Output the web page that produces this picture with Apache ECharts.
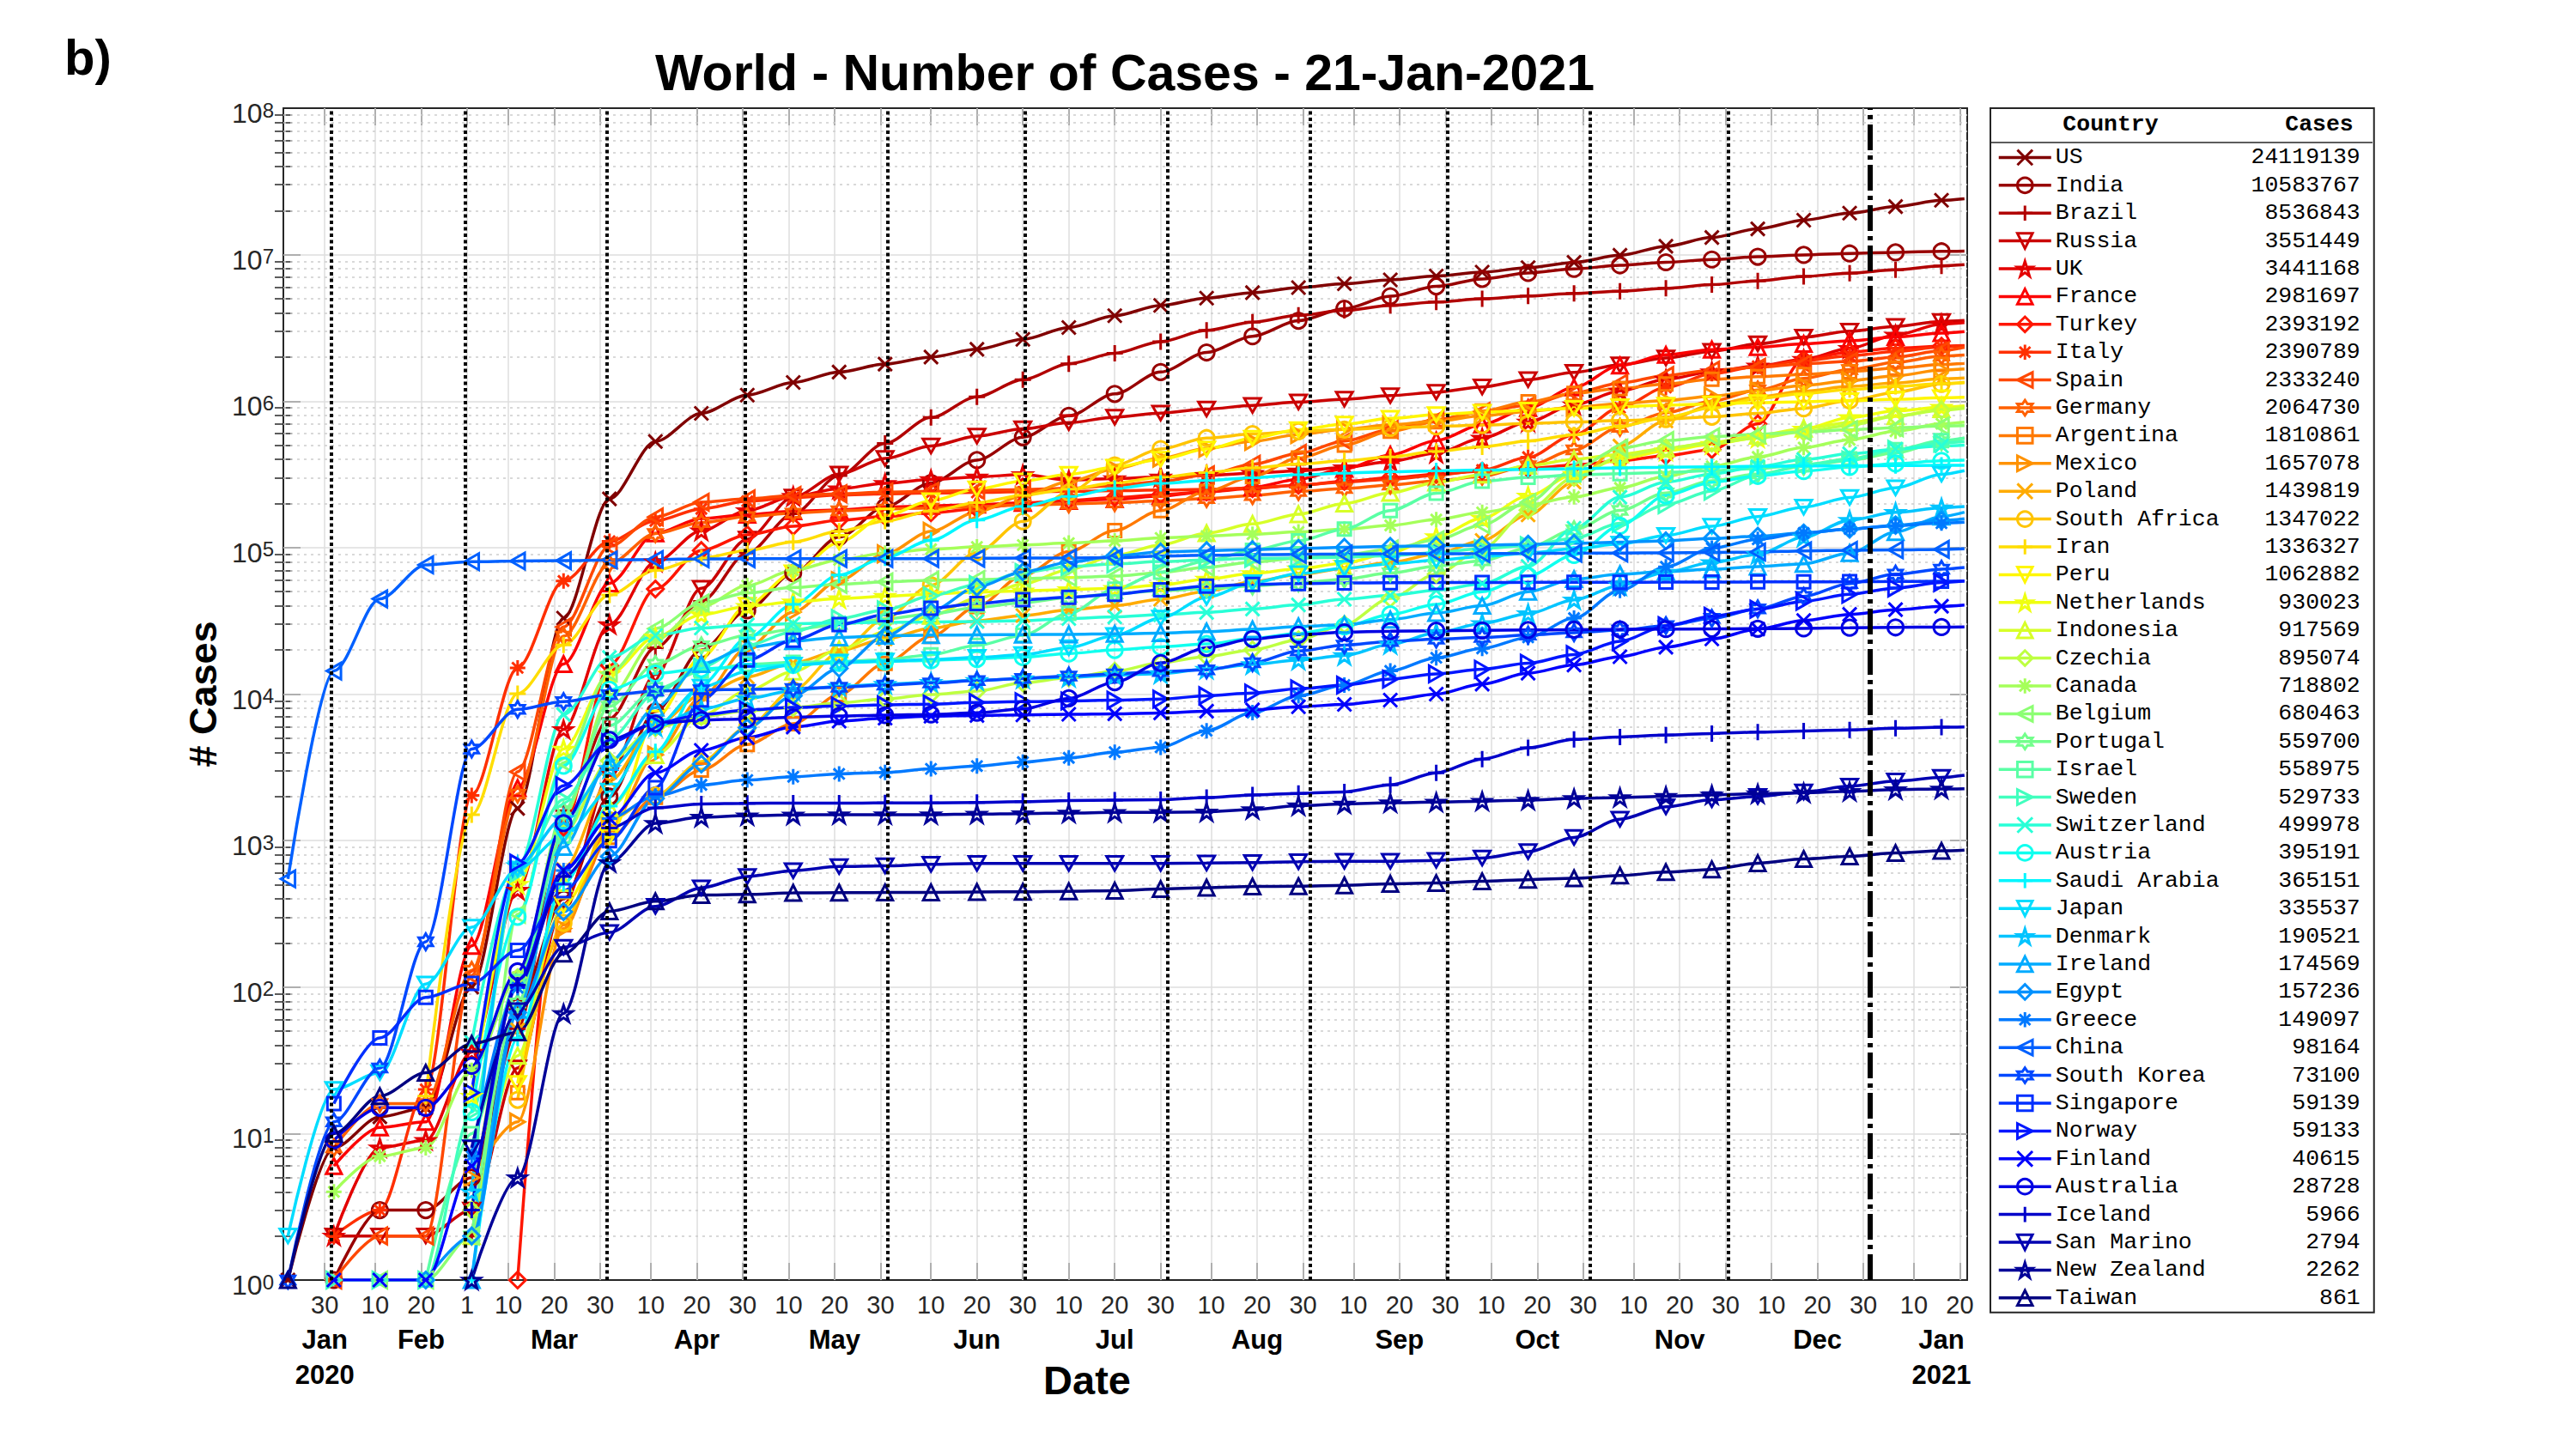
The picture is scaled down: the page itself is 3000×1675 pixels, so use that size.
<!DOCTYPE html>
<html lang="en">
<head>
  <meta charset="UTF-8">
  <title>World - Number of Cases - 21-Jan-2021</title>
  <style>
  html, body { margin: 0; padding: 0; background: #fff; }
  #main { width: 3000px; height: 1675px; }
  </style>
  <script src="https://cdn.jsdelivr.net/npm/echarts@6.0.0/dist/echarts.min.js"></script>
</head>
<body>
  <div id="main"></div>
  <script>
  // sample dates (every 10 days) and cumulative cases per country
  var dates = ['2020-01-22', '2020-02-01', '2020-02-11', '2020-02-21',
    '2020-03-02', '2020-03-12', '2020-03-22', '2020-04-01', '2020-04-11', '2020-04-21',
    '2020-05-01', '2020-05-11', '2020-05-21', '2020-05-31', '2020-06-10', '2020-06-20', '2020-06-30',
    '2020-07-10', '2020-07-20', '2020-07-30', '2020-08-09', '2020-08-19', '2020-08-29',
    '2020-09-08', '2020-09-18', '2020-09-28', '2020-10-08', '2020-10-18', '2020-10-28',
    '2020-11-07', '2020-11-17', '2020-11-27', '2020-12-07', '2020-12-17', '2020-12-27',
    '2021-01-06', '2021-01-16', '2021-01-21'];

  var countries = ['US', 'India', 'Brazil', 'Russia', 'UK', 'France', 'Turkey', 'Italy', 'Spain',
    'Germany', 'Argentina', 'Mexico', 'Poland', 'South Africa', 'Iran', 'Peru', 'Netherlands',
    'Indonesia', 'Czechia', 'Canada', 'Belgium', 'Portugal', 'Israel', 'Sweden', 'Switzerland',
    'Austria', 'Saudi Arabia', 'Japan', 'Denmark', 'Ireland', 'Egypt', 'Greece', 'China',
    'South Korea', 'Singapore', 'Norway', 'Finland', 'Australia', 'Iceland', 'San Marino',
    'New Zealand', 'Taiwan'];

  var latest = [24119139, 10583767, 8536843, 3551449, 3441168, 2981697, 2393192, 2390789, 2333240,
    2064730, 1810861, 1657078, 1439819, 1347022, 1336327, 1062882, 930023, 917569, 895074, 718802,
    680463, 559700, 558975, 529733, 499978, 395191, 365151, 335537, 190521, 174569, 157236, 149097,
    98164, 73100, 59139, 59133, 40615, 28728, 5966, 2794, 2262, 861];

  var us = [1, 8, 13, 15, 100, 1660, 33000, 215000, 530000, 825000, 1.10e6, 1.34e6, 1.58e6, 1.79e6,
    2.00e6, 2.26e6, 2.64e6, 3.18e6, 3.83e6, 4.50e6, 5.05e6, 5.50e6, 5.96e6, 6.33e6, 6.73e6, 7.15e6,
    7.60e6, 8.15e6, 8.85e6, 9.90e6, 11.4e6, 13.1e6, 15.0e6, 17.2e6, 19.2e6, 21.3e6, 23.5e6, 24119139];
  var india = [null, 1, 3, 3, 5, 73, 400, 1998, 7600, 20000, 37300, 67000, 118000, 190000,
    276000, 396000, 567000, 794000, 1.12e6, 1.58e6, 2.15e6, 2.77e6, 3.54e6, 4.28e6, 5.20e6, 6.07e6,
    6.83e6, 7.50e6, 7.99e6, 8.46e6, 8.87e6, 9.27e6, 9.68e6, 9.96e6, 10.19e6, 10.37e6, 10.54e6, 10583767];
  var brazil = [null, null, null, null, 2, 52, 1600, 6800, 20700, 43000, 92000, 170000, 310000, 514000,
    773000, 1.07e6, 1.40e6, 1.80e6, 2.12e6, 2.55e6, 3.04e6, 3.46e6, 3.85e6, 4.16e6, 4.50e6, 4.75e6,
    5.00e6, 5.22e6, 5.44e6, 5.63e6, 5.90e6, 6.24e6, 6.62e6, 7.10e6, 7.47e6, 7.87e6, 8.39e6, 8536843];
  var russia = [null, 2, 2, 2, 3, 28, 367, 2777, 13584, 52763, 114431, 221344, 317554, 405843,
    493657, 576952, 646929, 712863, 777486, 828990, 882347, 935066, 985346, 1.03e6, 1.09e6, 1.15e6,
    1.25e6, 1.40e6, 1.57e6, 1.77e6, 1.97e6, 2.19e6, 2.46e6, 2.73e6, 3.00e6, 3.24e6, 3.50e6, 3551449];
  var uk = [null, 2, 8, 9, 36, 459, 5741, 29865, 79885, 130172, 178685, 224332, 252246, 274762,
    291409, 304331, 314992, 289000, 296000, 304000, 311000, 322000, 334000, 352000, 388000, 442000,
    559000, 722000, 943000, 1.17e6, 1.41e6, 1.59e6, 1.74e6, 1.93e6, 2.29e6, 2.83e6, 3.36e6, 3441168];
  var france = [null, 6, 11, 12, 191, 2284, 16044, 57000, 125000, 158000, 168000, 177000, 181000, 189000,
    193000, 197000, 202000, 208000, 214000, 225000, 241000, 258000, 293000, 345000, 429000, 538000,
    692000, 897000, 1.24e6, 1.75e6, 2.07e6, 2.25e6, 2.34e6, 2.46e6, 2.58e6, 2.74e6, 2.91e6, 2981697];
  var turkey = [null, null, null, null, null, 1, 1236, 15679, 52167, 95591, 122392, 139771, 153548, 163103,
    173036, 184031, 199906, 209962, 219641, 229891, 240804, 253108, 267064, 283270, 299810, 316959,
    332382, 347493, 366000, 391000, 425000, 467000, 700000, 1.93e6, 2.16e6, 2.30e6, 2.37e6, 2393192];
  var italy = [null, 2, 3, 20, 2036, 15113, 59138, 110574, 152271, 183957, 207428, 219814, 228006, 232997,
    235763, 238159, 240578, 242639, 244624, 247158, 250103, 255278, 266853, 280153, 293025, 311364,
    338398, 414241, 589766, 902490, 1.24e6, 1.54e6, 1.73e6, 1.89e6, 2.04e6, 2.18e6, 2.35e6, 2390789];
  var spain = [null, 1, 2, 2, 120, 2950, 28768, 102136, 161852, 204178, 215216, 227436, 233037, 239479,
    242280, 245938, 249271, 253908, 264836, 282641, 314362, 370867, 439286, 534513, 640040, 748266,
    848324, 936560, 1.136e6, 1.328e6, 1.496e6, 1.628e6, 1.702e6, 1.797e6, 1.869e6, 2.00e6, 2.21e6, 2333240];
  var germany = [null, 8, 16, 16, 130, 2078, 24873, 77872, 124908, 148291, 163009, 171879, 178473, 183271,
    186506, 190359, 195228, 198699, 202735, 208546, 216196, 226914, 241771, 253474, 267773, 285026,
    307127, 361974, 464239, 663000, 833000, 1.00e6, 1.19e6, 1.43e6, 1.64e6, 1.84e6, 2.03e6, 2064730];
  var argentina = [null, null, null, null, null, 19, 266, 1054, 1975, 3031, 4532, 6278, 9931, 16214,
    24761, 39570, 64530, 94060, 130774, 178996, 241811, 305966, 408426, 500034, 622934, 723132,
    856369, 989680, 1.13e6, 1.22e6, 1.31e6, 1.41e6, 1.47e6, 1.52e6, 1.59e6, 1.68e6, 1.78e6, 1810861];
  var mexico = [null, null, null, null, 5, 12, 251, 1215, 3844, 9501, 20739, 36327, 59567, 90664,
    129184, 175202, 226089, 282283, 344224, 408449, 475902, 531239, 591712, 642860, 688954, 730317,
    794608, 851227, 906863, 961938, 1.01e6, 1.08e6, 1.18e6, 1.28e6, 1.38e6, 1.49e6, 1.63e6, 1657078];
  var poland = [null, null, null, null, null, 51, 634, 2554, 6088, 9856, 13105, 16326, 19739, 23786,
    28201, 31620, 34393, 37521, 40104, 44416, 50324, 58611, 65480, 71947, 79240, 90431,
    111984, 167230, 280229, 493000, 733000, 941000, 1.07e6, 1.17e6, 1.26e6, 1.33e6, 1.42e6, 1439819];
  var southAfrica = [null, null, null, null, null, 17, 274, 1380, 2028, 3465, 5951, 10652, 19137, 32683,
    55421, 92681, 151209, 238339, 364328, 471123, 559859, 596060, 622551, 640441, 657627, 671669,
    686891, 703793, 719714, 737278, 755000, 783000, 825000, 893000, 1.01e6, 1.15e6, 1.31e6, 1347022];
  var iran = [null, null, null, 18, 1501, 10075, 21638, 47593, 70029, 84802, 95646, 109286, 129341, 151466,
    177938, 202584, 227662, 250458, 276202, 301530, 324692, 350279, 371816, 391112, 416198, 453637,
    488236, 534631, 588648, 673250, 775000, 900000, 1.04e6, 1.13e6, 1.20e6, 1.26e6, 1.32e6, 1336327];
  var peru = [null, null, null, null, null, 22, 363, 1065, 6848, 17837, 40459, 67307, 108769, 164476,
    208823, 251338, 285213, 316448, 353590, 400683, 471012, 558420, 639435, 696190, 762865, 808714,
    839949, 868675, 892497, 916000, 939000, 956000, 976000, 990000, 1.007e6, 1.03e6, 1.055e6, 1062882];
  var netherlands = [null, null, null, null, 18, 503, 4216, 13696, 24571, 34842, 39791, 42627, 44888, 46545,
    48251, 49593, 50621, 51694, 52732, 55470, 61001, 66658, 71677, 78413, 91934, 119000,
    159000, 225000, 317000, 403000, 459000, 508000, 563000, 645000, 774000, 858000, 910000, 930023];
  var indonesia = [null, null, null, null, 2, 34, 514, 1677, 3842, 7135, 10551, 14265, 20162, 26473,
    34316, 45029, 56385, 70736, 88214, 104432, 125396, 144945, 169195, 200035, 236519, 278722,
    315714, 361867, 400483, 433836, 474455, 522581, 581550, 650000, 713365, 788402, 882000, 917569];
  var czechia = [null, null, null, null, 3, 116, 1120, 3508, 5902, 7033, 7682, 8095, 8721, 9268,
    9940, 10498, 11954, 12919, 14324, 16372, 18062, 20052, 23441, 29877, 45000, 66000,
    98000, 180000, 301000, 415000, 478000, 517000, 560000, 619000, 683000, 789000, 868000, 895074];
  var canada = [null, 4, 7, 8, 27, 117, 1468, 9560, 23318, 39402, 55061, 69981, 82480, 91681,
    97530, 101019, 104204, 107347, 111124, 116458, 119944, 123490, 127940, 133748, 141852, 155301,
    174000, 196000, 222000, 256000, 307000, 359000, 416000, 482000, 545000, 623000, 701000, 718802];
  var belgium = [null, null, 1, 1, 2, 314, 3401, 13964, 28018, 41889, 49032, 53449, 56235, 58381,
    59819, 60550, 61509, 62469, 63893, 67518, 73401, 79729, 84585, 89522, 97560, 113000,
    143000, 204000, 344000, 477000, 538000, 571000, 594000, 615000, 638000, 659000, 676000, 680463];
  var portugal = [null, null, null, null, 2, 78, 1600, 8251, 15987, 21379, 25190, 27581, 29912, 32500,
    35306, 39133, 42141, 45679, 48390, 50868, 52351, 54701, 57448, 60895, 67176, 74717,
    81256, 99911, 132616, 179324, 236015, 285838, 318640, 358296, 394573, 443000, 528000, 559700];
  var israel = [null, null, null, 1, 10, 109, 1071, 6092, 10743, 14326, 15982, 16477, 16717, 17169,
    18569, 21512, 25244, 35533, 52003, 68063, 81066, 95878, 111370, 134000, 179000, 235000,
    284000, 302000, 313000, 320000, 326000, 335000, 347000, 368000, 404000, 466000, 537000, 558975];
  var sweden = [null, 1, 1, 1, 14, 599, 1906, 4947, 10151, 15322, 21520, 26670, 32809, 37542,
    46814, 56043, 67667, 74333, 77281, 80422, 82323, 84532, 84985, 86194, 88237, 92466,
    98451, 103200, 115785, 146461, 196446, 243129, 312000, 367000, 396000, 469000, 518000, 529733];
  var switzerland = [null, null, null, null, 42, 652, 7245, 17768, 25107, 28268, 29705, 30251, 30618, 30862,
    31063, 31292, 31714, 32817, 33634, 34802, 36108, 38124, 40645, 44401, 47179, 51101,
    56632, 74422, 135658, 221000, 280000, 318000, 358000, 399000, 437000, 470000, 494000, 499978];
  var austria = [null, null, null, null, 14, 302, 3244, 10711, 13806, 14873, 15402, 15833, 16353, 16685,
    17000, 17380, 17873, 18948, 20008, 21000, 22000, 24000, 26000, 29000, 35000, 41000,
    50000, 64000, 89000, 141000, 227000, 279000, 309000, 333000, 355000, 375000, 391000, 395191];
  var saudiArabia = [null, null, null, null, 1, 45, 511, 1720, 4033, 11631, 24097, 41014, 65077, 85261,
    112288, 154233, 190823, 223327, 253349, 274219, 287262, 299914, 313911, 322237, 329271, 334187,
    338132, 342202, 346047, 350000, 354000, 356000, 359000, 361000, 362000, 363000, 365000, 365151];
  var japan = [2, 20, 26, 105, 256, 639, 1086, 2178, 6005, 11135, 14305, 15798, 16513, 16804,
    17210, 17799, 18593, 20719, 25096, 33049, 45764, 57550, 66423, 72216, 77488, 82131,
    86924, 91862, 98048, 105914, 121000, 140000, 163000, 189000, 220000, 256000, 317000, 335537];
  var denmark = [null, null, null, null, 4, 674, 1420, 3107, 5996, 7891, 9311, 10591, 11289, 11699,
    12035, 12391, 12768, 13037, 13466, 13789, 14815, 15940, 17084, 18356, 21847, 26213,
    30379, 35392, 44034, 55121, 68000, 79000, 90000, 118000, 154000, 174000, 187000, 190521];
  var ireland = [null, null, null, null, 1, 70, 906, 3447, 8089, 16040, 20833, 22996, 24391, 25062,
    25250, 25383, 25477, 25589, 25802, 26065, 26712, 27676, 28960, 29774, 32271, 35740,
    40086, 49962, 60940, 65889, 68686, 71187, 74246, 77500, 91800, 127700, 163000, 174569];
  var egypt = [null, null, null, 1, 2, 67, 327, 779, 1939, 3333, 5895, 9746, 15003, 24985,
    36829, 53758, 68311, 79254, 87775, 93356, 95314, 96914, 98727, 100557, 101900, 103000,
    104000, 105500, 107000, 108900, 111300, 115500, 119600, 125900, 133800, 142000, 153000, 157236];
  var greece = [null, null, null, null, 7, 99, 624, 1415, 2011, 2401, 2591, 2726, 2853, 2918,
    3088, 3227, 3432, 3672, 4012, 4337, 5623, 7472, 9741, 11524, 14400, 17700,
    20500, 24400, 33000, 51000, 74000, 99000, 114000, 126000, 134000, 141000, 147000, 149097];
  var china = [548, 14380, 44653, 76288, 80174, 80977, 81439, 82361, 82941, 83853, 83959, 84011, 84063, 84128,
    84191, 84494, 84785, 85030, 85314, 87489, 88586, 89500, 90000, 90300, 90700, 90700,
    91000, 91400, 91700, 91900, 92000, 92700, 93300, 95000, 95900, 96500, 97300, 98164];
  var southKorea = [1, 12, 28, 204, 4212, 7869, 8897, 9887, 10480, 10683, 10774, 10909, 11142, 11503,
    11902, 12373, 12800, 13293, 13745, 14269, 14660, 16346, 19699, 21588, 22893, 23699,
    24353, 25275, 26271, 27284, 29311, 32887, 38161, 46453, 56872, 65818, 71241, 73100];
  var singapore = [null, 16, 45, 85, 106, 178, 455, 1000, 2299, 9125, 17101, 23336, 29812, 34884,
    38514, 41473, 44122, 45783, 48035, 51531, 54555, 56099, 56852, 57315, 57576, 57765,
    57866, 57915, 57980, 58019, 58102, 58218, 58297, 58386, 58529, 58721, 59029, 59139];
  var norway = [null, null, null, null, 19, 702, 2371, 4665, 6314, 7241, 7783, 8099, 8309, 8437,
    8547, 8772, 8879, 8977, 9085, 9240, 9750, 10162, 10867, 11521, 12644, 13741,
    14784, 16236, 18624, 22916, 29285, 34000, 38000, 43000, 48000, 53000, 57700, 59133];
  var finland = [null, 1, 1, 1, 6, 109, 626, 1418, 2905, 4129, 5051, 5962, 6537, 6859,
    7064, 7143, 7214, 7279, 7340, 7443, 7642, 7800, 8200, 8500, 9100, 10000,
    11700, 13900, 15800, 18000, 20900, 23800, 27800, 31800, 35000, 37700, 39800, 40615];
  var australia = [null, 9, 15, 15, 29, 128, 1314, 4862, 6292, 6645, 6766, 6941, 7081, 7185,
    7265, 7461, 7920, 9359, 12069, 16303, 20698, 23773, 25448, 26425, 26898, 27078,
    27220, 27376, 27541, 27655, 27791, 27878, 27965, 28080, 28381, 28547, 28675, 28728];
  var iceland = [null, null, null, null, 3, 103, 568, 1220, 1675, 1778, 1797, 1801, 1803, 1806,
    1807, 1820, 1842, 1878, 1890, 1900, 1965, 2050, 2100, 2150, 2400, 2900,
    3600, 4300, 4900, 5100, 5250, 5380, 5500, 5600, 5700, 5850, 5940, 5966];
  var sanMarino = [null, null, null, null, 8, 69, 187, 236, 356, 476, 569, 623, 665, 672,
    688, 698, 698, 699, 699, 699, 703, 708, 718, 722, 723, 733,
    760, 840, 1050, 1400, 1700, 1900, 2000, 2150, 2350, 2550, 2700, 2794];
  var newZealand = [null, null, null, null, 1, 5, 66, 708, 1312, 1445, 1479, 1497, 1504, 1504,
    1504, 1516, 1528, 1542, 1556, 1560, 1570, 1631, 1730, 1780, 1811, 1830,
    1860, 1890, 1940, 1970, 2010, 2050, 2090, 2120, 2170, 2230, 2250, 2262];
  var taiwan = [1, 10, 18, 26, 41, 49, 169, 329, 385, 425, 429, 440, 441, 442,
    443, 446, 447, 451, 455, 467, 477, 486, 488, 495, 507, 513,
    527, 541, 553, 577, 609, 636, 701, 749, 780, 823, 851, 861];

  var values = [us, india, brazil, russia, uk, france, turkey, italy, spain, germany, argentina,
    mexico, poland, southAfrica, iran, peru, netherlands, indonesia, czechia, canada, belgium,
    portugal, israel, sweden, switzerland, austria, saudiArabia, japan, denmark, ireland, egypt,
    greece, china, southKorea, singapore, norway, finland, australia, iceland, sanMarino,
    newZealand, taiwan];

  // x tick labels (day of month) and month labels
  var tickDates = ['2020-01-30', '2020-02-10', '2020-02-20', '2020-03-01', '2020-03-10', '2020-03-20',
    '2020-03-30', '2020-04-10', '2020-04-20', '2020-04-30', '2020-05-10', '2020-05-20', '2020-05-30',
    '2020-06-10', '2020-06-20', '2020-06-30', '2020-07-10', '2020-07-20', '2020-07-30', '2020-08-10',
    '2020-08-20', '2020-08-30', '2020-09-10', '2020-09-20', '2020-09-30', '2020-10-10', '2020-10-20',
    '2020-10-30', '2020-11-10', '2020-11-20', '2020-11-30', '2020-12-10', '2020-12-20', '2020-12-30',
    '2021-01-10', '2021-01-20'];
  var monthLabelDates = ['2020-01-30', '2020-02-20', '2020-03-20', '2020-04-20', '2020-05-20',
    '2020-06-20', '2020-07-20', '2020-08-20', '2020-09-20', '2020-10-20', '2020-11-20',
    '2020-12-20', '2021-01-16'];
  var monthLabels = ['Jan\n2020', 'Feb', 'Mar', 'Apr', 'May', 'Jun', 'Jul', 'Aug', 'Sep', 'Oct',
    'Nov', 'Dec', 'Jan\n2021'];
  var monthEnds = ['2020-01-31', '2020-02-29', '2020-03-31', '2020-04-30', '2020-05-31', '2020-06-30',
    '2020-07-31', '2020-08-31', '2020-09-30', '2020-10-31', '2020-11-30'];
  var yearEnd = '2020-12-31';
  var decades = [1, 10, 100, 1e3, 1e4, 1e5, 1e6, 1e7, 1e8];

  // x is counted in days since 21 Jan 2020
  var DAY = 864e5;
  var T0 = Date.UTC(2020, 0, 21);
  function day(s) {
    var p = s.split('-');
    return (Date.UTC(+p[0], +p[1] - 1, +p[2]) - T0) / DAY;
  }
  function dayOfMonth(x) { return new Date(T0 + Math.round(x) * DAY).getUTCDate(); }
  var xMin = 0;
  var xMax = day('2021-01-21') + 0.6;
  var tickX = tickDates.map(day);
  var monthX = monthLabelDates.map(day);

  var minors = [];
  for (var e = 0; e < 8; e++) {
    for (var k = 2; k <= 9; k++) minors.push(k * Math.pow(10, e));
  }

  // MATLAB jet colormap
  function jet(t) {
    var c = function (x) { return Math.round(255 * Math.max(0, Math.min(1, x))); };
    return 'rgb(' + c(1.5 - Math.abs(4 * t - 3)) + ',' + c(1.5 - Math.abs(4 * t - 2)) + ',' +
      c(1.5 - Math.abs(4 * t - 1)) + ')';
  }

  function starPath(n, rOut, rIn) {
    var pts = [];
    for (var i = 0; i < 2 * n; i++) {
      var r = i % 2 ? rIn : rOut;
      var a = -Math.PI / 2 + i * Math.PI / n;
      pts.push((10 + r * Math.cos(a)).toFixed(2) + ',' + (10 + r * Math.sin(a)).toFixed(2));
    }
    return 'path://M' + pts.join('L') + 'Z';
  }

  // x o + v p ^ d * < h s >
  var markers = [
    ['path://M0,0L10,10M0,10L10,0', 16],
    ['circle', 18],
    ['path://M5,0L5,10M0,5L10,5', 19],
    ['path://M0,0L10,0L5,8.66Z', 19],
    [starPath(5, 10, 3.82), 20],
    ['triangle', 18],
    ['diamond', 19],
    ['path://M5,0L5,10M0,5L10,5M1.46,1.46L8.54,8.54M1.46,8.54L8.54,1.46', 18],
    ['path://M8.66,0L8.66,10L0,5Z', 19],
    [starPath(6, 10, 5.77), 19],
    ['rect', 15],
    ['path://M0,0L0,10L8.66,5Z', 19]
  ];

  var FONT = '"Liberation Sans", Arial, Helvetica, sans-serif';
  var MONO = '"Liberation Mono", "Courier New", monospace';
  var AXC = '#262626';

  var series = countries.map(function (name, i) {
    var c = jet(1 - i / (countries.length - 1));
    var m = markers[i % markers.length];
    return {
      name: name,
      type: 'line',
      z: 3,
      silent: true,
      smooth: 0.3,
      smoothMonotone: 'x',
      showAllSymbol: true,
      symbol: m[0],
      symbolKeepAspect: true,
      symbolSize: function (v, p) { return p.dataIndex === dates.length - 1 ? 0 : m[1]; },
      lineStyle: { color: c, width: 3.5 },
      itemStyle: { color: 'rgba(0,0,0,0)', borderColor: c, borderWidth: 3 },
      emphasis: { disabled: true },
      data: dates.map(function (d, j) { return [day(d), values[i][j]]; })
    };
  });

  // background grid lines
  var gridLines = [];
  tickX.forEach(function (t) {
    gridLines.push({ xAxis: t, lineStyle: { color: '#dedede', width: 1.5, type: 'solid' } });
  });
  for (var d = 1; d < 8; d++) {
    gridLines.push({ yAxis: Math.pow(10, d), lineStyle: { color: '#dedede', width: 1.5, type: 'solid' } });
  }
  minors.forEach(function (v) {
    gridLines.push({ yAxis: v, lineStyle: { color: '#cdcdcd', width: 1.5, type: [3, 5] } });
  });
  series.unshift({
    name: 'grid', type: 'line', data: [], silent: true,
    markLine: { silent: true, z: 1, symbol: ['none', 'none'], label: { show: false }, animation: false, data: gridLines }
  });

  // month boundaries (dotted) and year end (dash-dot)
  var monthLines = monthEnds.map(function (s) {
    return { xAxis: day(s) + 0.5, lineStyle: { color: '#000', width: 4, type: [4, 3.5] } };
  });
  monthLines.push({ xAxis: day(yearEnd) + 0.5, lineStyle: { color: '#000', width: 6, type: [30, 6, 5, 6] } });
  series.push({
    name: 'months', type: 'line', data: [], silent: true,
    markLine: { silent: true, z: 10, symbol: ['none', 'none'], label: { show: false }, animation: false, data: monthLines }
  });

  var myChart = echarts.init(document.getElementById('main'), null, { renderer: 'svg' });
  myChart.setOption({
    animation: false,
    backgroundColor: '#fff',
    grid: { left: 330, top: 126, width: 1961, height: 1365, containLabel: false },
    xAxis: [{
      type: 'value', min: xMin, max: xMax, position: 'bottom',
      axisLine: { show: true, onZero: false, lineStyle: { color: AXC, width: 2 } },
      axisTick: { show: true, customValues: tickX, inside: true, length: 20, lineStyle: { color: AXC, width: 2 } },
      axisLabel: {
        customValues: tickX, margin: 14, fontSize: 29, fontFamily: FONT, color: AXC,
        formatter: function (v) { return String(dayOfMonth(v)); }
      },
      splitLine: { show: false }
    }, {
      type: 'value', min: xMin, max: xMax, position: 'bottom',
      axisLine: { show: false }, axisTick: { show: false }, splitLine: { show: false },
      axisLabel: {
        customValues: monthX, margin: 49, fontSize: 31, fontWeight: 'bold', lineHeight: 41,
        fontFamily: FONT, color: '#000',
        formatter: function (v) {
          var i = monthX.indexOf(v);
          return i < 0 ? '' : monthLabels[i];
        }
      }
    }, {
      type: 'value', min: xMin, max: xMax, position: 'top',
      axisLine: { show: true, onZero: false, lineStyle: { color: AXC, width: 2 } },
      axisTick: { show: true, customValues: tickX, inside: true, length: 20, lineStyle: { color: AXC, width: 2 } },
      axisLabel: { show: false }, splitLine: { show: false }
    }],
    yAxis: [{
      type: 'log', logBase: 10, min: 1, max: 1e8, position: 'left',
      name: '# Cases', nameLocation: 'middle', nameGap: 68, nameRotate: 90,
      nameTextStyle: { fontSize: 45, fontWeight: 'bold', fontFamily: FONT, color: '#000' },
      axisLine: { show: true, onZero: false, lineStyle: { color: AXC, width: 2 } },
      axisTick: { show: true, customValues: decades, inside: true, length: 20, lineStyle: { color: AXC, width: 2 } },
      axisLabel: {
        customValues: decades, margin: 11, padding: [12, 0, 0, 0],
        formatter: function (v) { return '{b|10}{s|' + Math.round(Math.log10(v)) + '}'; },
        rich: {
          b: { fontSize: 32, lineHeight: 32, fontFamily: FONT, color: AXC, verticalAlign: 'bottom' },
          s: { fontSize: 24, lineHeight: 24, fontFamily: FONT, color: AXC, verticalAlign: 'top' }
        }
      },
      splitLine: { show: false }, minorTick: { show: false }
    }, {
      type: 'log', logBase: 10, min: 1, max: 1e8, position: 'right',
      axisLine: { show: true, onZero: false, lineStyle: { color: AXC, width: 2 } },
      axisTick: { show: true, customValues: decades, inside: true, length: 20, lineStyle: { color: AXC, width: 2 } },
      axisLabel: { show: false }, splitLine: { show: false }
    }, {
      type: 'log', logBase: 10, min: 1, max: 1e8, position: 'left',
      axisLine: { show: false },
      axisTick: { show: true, customValues: minors, inside: true, length: 10, lineStyle: { color: AXC, width: 1.5 } },
      axisLabel: { show: false }, splitLine: { show: false }
    }, {
      type: 'log', logBase: 10, min: 1, max: 1e8, position: 'right',
      axisLine: { show: false },
      axisTick: { show: true, customValues: minors, inside: true, length: 10, lineStyle: { color: AXC, width: 1.5 } },
      axisLabel: { show: false }, splitLine: { show: false }
    }],
    legend: {
      orient: 'vertical', left: 2318, top: 126, height: 1450,
      padding: [43.9, 16, 3.5, 8],
      itemWidth: 61, itemHeight: 22, itemGap: 5.4,
      borderColor: AXC, borderWidth: 2, backgroundColor: '#fff',
      selectedMode: false,
      lineStyle: { width: 3.5 },
      itemStyle: { borderWidth: 3 },
      data: countries,
      formatter: function (name) {
        return '{n|' + name + '}{v|' + latest[countries.indexOf(name)] + '}';
      },
      textStyle: {
        fontFamily: MONO, fontSize: 26.5, lineHeight: 27, color: '#000',
        rich: {
          n: { width: 223, fontFamily: MONO, fontSize: 26.5, lineHeight: 27, color: '#000' },
          v: { width: 132, align: 'right', fontFamily: MONO, fontSize: 26.5, lineHeight: 27, color: '#000' }
        }
      }
    },
    graphic: [{
      type: 'text', x: 75, y: 66, silent: true,
      style: { text: 'b)', font: 'bold 58px ' + FONT, fill: '#000', textAlign: 'left', textVerticalAlign: 'middle', align: 'left', verticalAlign: 'middle' }
    }, {
      type: 'text', x: 1310, y: 85, silent: true,
      style: { text: 'World - Number of Cases - 21-Jan-2021', font: 'bold 59px ' + FONT, fill: '#000', textAlign: 'center', textVerticalAlign: 'middle', align: 'center', verticalAlign: 'middle' }
    }, {
      type: 'text', x: 1266, y: 1607, silent: true,
      style: { text: 'Date', font: 'bold 47px ' + FONT, fill: '#000', textAlign: 'center', textVerticalAlign: 'middle', align: 'center', verticalAlign: 'middle' }
    }, {
      type: 'text', x: 2458, y: 145, silent: true, z: 100,
      style: { text: 'Country', font: 'bold 26.5px ' + MONO, fill: '#000', textAlign: 'center', textVerticalAlign: 'middle', align: 'center', verticalAlign: 'middle' }
    }, {
      type: 'text', x: 2701, y: 145, silent: true, z: 100,
      style: { text: 'Cases', font: 'bold 26.5px ' + MONO, fill: '#000', textAlign: 'center', textVerticalAlign: 'middle', align: 'center', verticalAlign: 'middle' }
    }, {
      type: 'line', silent: true, z: 100,
      shape: { x1: 2318, y1: 166, x2: 2763, y2: 166 },
      style: { stroke: AXC, lineWidth: 1.5 }
    }],
    series: series
  });
  </script>
</body>
</html>
